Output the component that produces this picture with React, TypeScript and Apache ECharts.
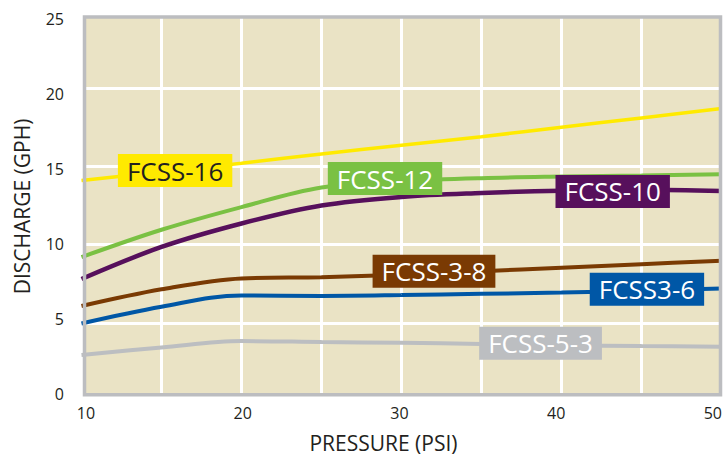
import React, { useEffect, useRef } from "react";
import * as echarts from "echarts";

// ---- data ----
const pressure = [10, 15, 20, 25, 30, 35, 40, 45, 50];
const fcss16 = [14.1, 14.65, 15.2, 15.8, 16.35, 16.9, 17.5, 18.1, 18.7];
const fcss12 = [9.2, 10.95, 12.4, 13.65, 14.05, 14.25, 14.35, 14.42, 14.5];
const fcss10 = [7.8, 9.85, 11.35, 12.5, 13.05, 13.3, 13.45, 13.5, 13.42];
const fcss38 = [6.07, 7.14, 7.84, 7.92, 8.08, 8.3, 8.52, 8.75, 8.97];
const fcss36 = [4.96, 6.03, 6.75, 6.72, 6.77, 6.85, 6.93, 7.05, 7.2];
const fcss53 = [2.94, 3.42, 3.83, 3.77, 3.72, 3.65, 3.57, 3.51, 3.47];
const seriesNames = ["FCSS-16", "FCSS-12", "FCSS-10", "FCSS-3-8", "FCSS3-6", "FCSS-5-3"];
const xTickLabels = [10, 20, 30, 40, 50];
const yTickLabels = [0, 5, 10, 15, 20, 25];

// label anchors (data units)
const labelPressure = [15.85, 28.97, 43.2, 32.03, 45.34, 38.69];
const labelDischarge = [14.73, 14.22, 13.4, 8.29, 7.14, 3.69];

const seriesValues = [fcss16, fcss12, fcss10, fcss38, fcss36, fcss53];
const colors = ["#FFEA00", "#7AC143", "#57105C", "#7A3A03", "#0057A6", "#BCBEC1"];
const textColors = ["#231F20", "#FFFFFF", "#FFFFFF", "#FFFFFF", "#FFFFFF", "#FFFFFF"];
const widths = [3.5, 4, 4.5, 4, 4, 4];

const FONT = "Open Sans";

export default function App() {
  const ref = useRef<HTMLDivElement>(null);
  useEffect(() => {
    if (!ref.current) return;
    const chart = echarts.init(ref.current, null, { renderer: "svg" });
    const series = seriesNames.map((name, i) => ({
      name,
      type: "line",
      xAxisIndex: 0,
      yAxisIndex: 0,
      data: pressure.map((p, j) => [p, seriesValues[i][j]]),
      showSymbol: false,
      smooth: 0.35,
      lineStyle: { color: colors[i], width: widths[i] },
      itemStyle: { color: colors[i] },
      z: 2,
      markPoint: {
        symbol: "rect",
        symbolSize: 1,
        silent: true,
        itemStyle: { color: "rgba(0,0,0,0)" },
        data: [{ coord: [labelPressure[i], labelDischarge[i]], value: name }],
        label: {
          show: true,
          position: "inside",
          formatter: name,
          backgroundColor: colors[i],
          color: textColors[i],
          fontSize: 26,
          fontFamily: FONT,
          lineHeight: 26,
          padding: [4, 9, 3, 9],
        },
      },
    }));
    const hiddenAxis = {
      axisLine: { show: false },
      axisTick: { show: false },
    };
    chart.setOption({
      animation: false,
      backgroundColor: "#FFFFFF",
      grid: [
        { left: 81.5, right: 3.5, top: 10, bottom: 57 },
        { left: 86, right: 11, top: 19, bottom: 59 },
      ],
      xAxis: [
        {
          type: "value",
          gridIndex: 0,
          min: 10,
          max: 50,
          interval: 5,
          ...hiddenAxis,
          axisLabel: { show: false },
          splitLine: { show: true, lineStyle: { color: "#FFFFFF", width: 3 } },
        },
        {
          type: "value",
          gridIndex: 1,
          min: xTickLabels[0],
          max: xTickLabels[xTickLabels.length - 1],
          interval: 10,
          ...hiddenAxis,
          splitLine: { show: false },
          axisLabel: { show: true, fontSize: 16, color: "#231F20", fontFamily: FONT, margin: 11 },
          name: "PRESSURE (PSI)",
          nameLocation: "middle",
          nameGap: 38,
          nameTextStyle: { fontSize: 21, color: "#231F20", fontFamily: FONT, padding: [0, 32, 0, 0] },
        },
      ],
      yAxis: [
        {
          type: "value",
          gridIndex: 0,
          min: 0,
          max: 25,
          interval: 5,
          ...hiddenAxis,
          axisLabel: { show: false },
          splitLine: { show: true, lineStyle: { color: "#FFFFFF", width: 3 } },
        },
        {
          type: "value",
          gridIndex: 1,
          min: yTickLabels[0],
          max: yTickLabels[yTickLabels.length - 1],
          interval: 5,
          ...hiddenAxis,
          splitLine: { show: false },
          axisLabel: { show: true, fontSize: 16, color: "#231F20", fontFamily: FONT, margin: 22 },
          name: "DISCHARGE (GPH)",
          nameLocation: "middle",
          nameGap: 54,
          nameTextStyle: { fontSize: 21, color: "#231F20", fontFamily: FONT },
        },
      ],
      graphic: [
        {
          type: "rect",
          z: -10,
          silent: true,
          shape: { x: 84.5, y: 17, width: 636, height: 377.7 },
          style: { fill: "#EAE3C5" },
        },
        {
          type: "rect",
          z: 10,
          silent: true,
          shape: { x: 84.5, y: 17, width: 636, height: 377.7 },
          style: { fill: "none", stroke: "#BCBDC0", lineWidth: 3.5 },
        },
      ],
      series,
    });
    return () => chart.dispose();
  }, []);
  return (
    <div
      ref={ref}
      style={{ position: "fixed", left: 0, top: 0, width: 725, height: 458 }}
    />
  );
}
